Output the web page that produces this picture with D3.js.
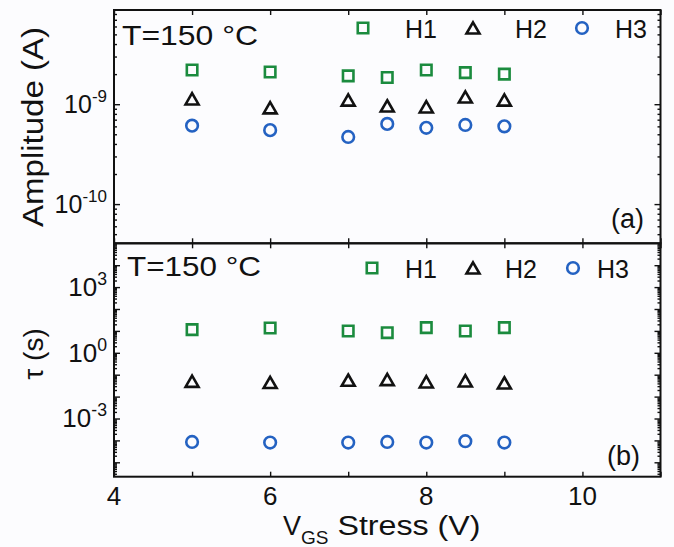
<!DOCTYPE html>
<html lang="en">
<head>
<meta charset="UTF-8">
<title>Amplitude and tau vs VGS stress</title>
<style>
  body, html {
      margin: 0;
      padding: 0;
      background-color: #fcfcfe;
  }
  svg text {
      font-family: "Liberation Sans", Arial, sans-serif;
      fill: #111;
  }
</style>
</head>
<body>
<svg id="chart" width="674" height="547"></svg>

<script src="https://cdn.jsdelivr.net/npm/d3@7"></script>
<script>
// stress voltages (V)
var volts = [5, 6, 7, 7.5, 8, 8.5, 9];

// panel (a): amplitude (A)
var ampH1 = [2.2e-9, 2.1e-9, 1.92e-9, 1.85e-9, 2.2e-9, 2.07e-9, 2.0e-9];
var ampH2 = [1.13e-9, 9.2e-10, 1.1e-9, 9.6e-10, 9.4e-10, 1.18e-9, 1.1e-9];
var ampH3 = [6.1e-10, 5.5e-10, 4.7e-10, 6.35e-10, 5.8e-10, 6.2e-10, 6.0e-10];

// panel (b): tau (s)
var tauH1 = [11.4, 13.5, 9.9, 8.3, 14.1, 9.9, 14.1];
var tauH2 = [0.050, 0.044, 0.056, 0.060, 0.047, 0.052, 0.042];
var tauH3 = [8.5e-5, 8.0e-5, 8.0e-5, 8.5e-5, 8.0e-5, 9.2e-5, 8.0e-5];

var seriesNames = ["H1", "H2", "H3"];
var xTickValues = [4, 5, 6, 7, 8, 9, 10, 11];
var xTickLabels = [4, 6, 8, 10];
var ampDecades = [1e-10, 1e-9];
var ampLabelExp = ["-10", "-9"];
var tauDecades = [1e-5, 1e-4, 1e-3, 1e-2, 1e-1, 1e0, 1e1, 1e2, 1e3, 1e4];
var tauLabelExp = ["-3", "0", "3"];

var svg = d3.select("#chart");

var left = 114, right = 660.5;
var x = d3.scaleLinear().domain([4, 11]).range([left, right]);
var yA = d3.scaleLog().domain([4.05e-11, 8.77e-9]).range([243.3, 10]);
var yB = d3.scaleLog().domain([2.2e-6, 1e5]).range([476.7, 243.3]);

var green = "#1b8b3e", blue = "#2462c2", black = "#111";
var symbolFor = {
  H1: {type: d3.symbolSquare, size: 110, color: green, dy: 0},
  H2: {type: d3.symbolTriangle, size: 73, color: black, dy: 1.8},
  H3: {type: d3.symbolCircle, size: 106, color: blue, dy: 0}
};

function minorTicks(scale) {
  var d = scale.domain(), out = [];
  var lo = Math.floor(Math.log10(d[0])), hi = Math.ceil(Math.log10(d[1]));
  for (var e = lo; e <= hi; e++) {
    for (var m = 2; m <= 9; m++) {
      var v = m * Math.pow(10, e);
      if (v > d[0] && v < d[1]) out.push(v);
    }
  }
  return out;
}

function styleAxis(g) {
  g.select(".domain").remove();
  g.selectAll("line").attr("stroke", "#111").attr("stroke-width", 1.4);
}

function drawPanel(y, decades, data) {
  var top = y.range()[1], bottom = y.range()[0];

  // inward ticks on all four sides
  svg.append("g").attr("transform", "translate(0," + bottom + ")")
    .call(d3.axisBottom(x).tickValues(xTickValues).tickSize(-5).tickFormat(""))
    .call(styleAxis);
  svg.append("g").attr("transform", "translate(0," + top + ")")
    .call(d3.axisTop(x).tickValues(xTickValues).tickSize(-5).tickFormat(""))
    .call(styleAxis);

  [[d3.axisLeft, left], [d3.axisRight, right]].forEach(function (p) {
    svg.append("g").attr("transform", "translate(" + p[1] + ",0)")
      .call(p[0](y).tickValues(decades).tickSize(-6).tickFormat(""))
      .call(styleAxis);
    svg.append("g").attr("transform", "translate(" + p[1] + ",0)")
      .call(p[0](y).tickValues(minorTicks(y)).tickSize(-3).tickFormat(""))
      .call(styleAxis);
  });

  svg.append("rect")
    .attr("x", left).attr("y", top)
    .attr("width", right - left).attr("height", bottom - top)
    .attr("fill", "none").attr("stroke", "#111").attr("stroke-width", 2);

  seriesNames.forEach(function (name, i) {
    var s = symbolFor[name];
    svg.append("g").selectAll("path")
      .data(volts.map(function (v, j) { return [v, data[i][j]]; }))
      .join("path")
      .attr("d", d3.symbol().type(s.type).size(s.size))
      .attr("transform", function (d) { return "translate(" + x(d[0]) + "," + (y(d[1]) + s.dy) + ")"; })
      .attr("fill", "none").attr("stroke", s.color).attr("stroke-width", 2.6);
  });
}

function decadeLabel(y, value, exp, fs) {
  var t = svg.append("text")
    .attr("x", left - 7).attr("y", y(value) + 9)
    .attr("text-anchor", "end").attr("font-size", fs);
  t.append("tspan").text("10");
  t.append("tspan").attr("dy", -11).attr("font-size", fs * 0.68).text(exp);
}

function legend(yPos, xs, textXs, textY) {
  seriesNames.forEach(function (name, i) {
    var s = symbolFor[name];
    svg.append("path")
      .attr("d", d3.symbol().type(s.type).size(s.size))
      .attr("transform", "translate(" + xs[i] + "," + (yPos + s.dy) + ")")
      .attr("fill", "none").attr("stroke", s.color).attr("stroke-width", 2.6);
    svg.append("text").attr("x", textXs[i]).attr("y", textY)
      .attr("font-size", 25).text(name);
  });
}

// panel (a)
drawPanel(yA, ampDecades, [ampH1, ampH2, ampH3]);
ampDecades.forEach(function (v, i) { decadeLabel(yA, v, ampLabelExp[i], 25); });
svg.append("text").attr("x", 122).attr("y", 45).attr("font-size", 28)
  .attr("textLength", 136).attr("lengthAdjust", "spacingAndGlyphs").text("T=150 °C");
legend(28, [363, 473, 582], [405, 515, 615], 38);
svg.append("text").attr("x", 611).attr("y", 228).attr("font-size", 27).text("(a)");
svg.append("text")
  .attr("transform", "translate(43,127) rotate(-90)")
  .attr("text-anchor", "middle").attr("font-size", 30)
  .attr("textLength", 200).attr("lengthAdjust", "spacingAndGlyphs")
  .text("Amplitude (A)");

// panel (b)
drawPanel(yB, tauDecades, [tauH1, tauH2, tauH3]);
[1e-3, 1e0, 1e3].forEach(function (v, i) { decadeLabel(yB, v, tauLabelExp[i], 26); });
svg.append("text").attr("x", 127).attr("y", 276).attr("font-size", 28)
  .attr("textLength", 134).attr("lengthAdjust", "spacingAndGlyphs").text("T=150 °C");
legend(268, [372, 473, 573], [405, 505, 597], 277.5);
svg.append("text").attr("x", 607).attr("y", 465).attr("font-size", 27).text("(b)");
svg.append("text")
  .attr("transform", "translate(43,354) rotate(-90)")
  .attr("text-anchor", "middle").attr("font-size", 28)
  .text("τ (s)");

// x axis labels
svg.append("g").selectAll("text")
  .data(xTickLabels)
  .join("text")
  .attr("x", function (d) { return x(d); }).attr("y", 505)
  .attr("text-anchor", "middle").attr("font-size", 26)
  .text(function (d) { return d; });

var xl = svg.append("text").attr("x", 283).attr("y", 535).attr("font-size", 27);
xl.append("tspan").text("V");
xl.append("tspan").attr("dy", 9).attr("font-size", 19).text("GS");
xl.append("tspan").attr("dy", -9)
  .attr("textLength", 152).attr("lengthAdjust", "spacingAndGlyphs")
  .text(" Stress (V)");
</script>
</body>
</html>
